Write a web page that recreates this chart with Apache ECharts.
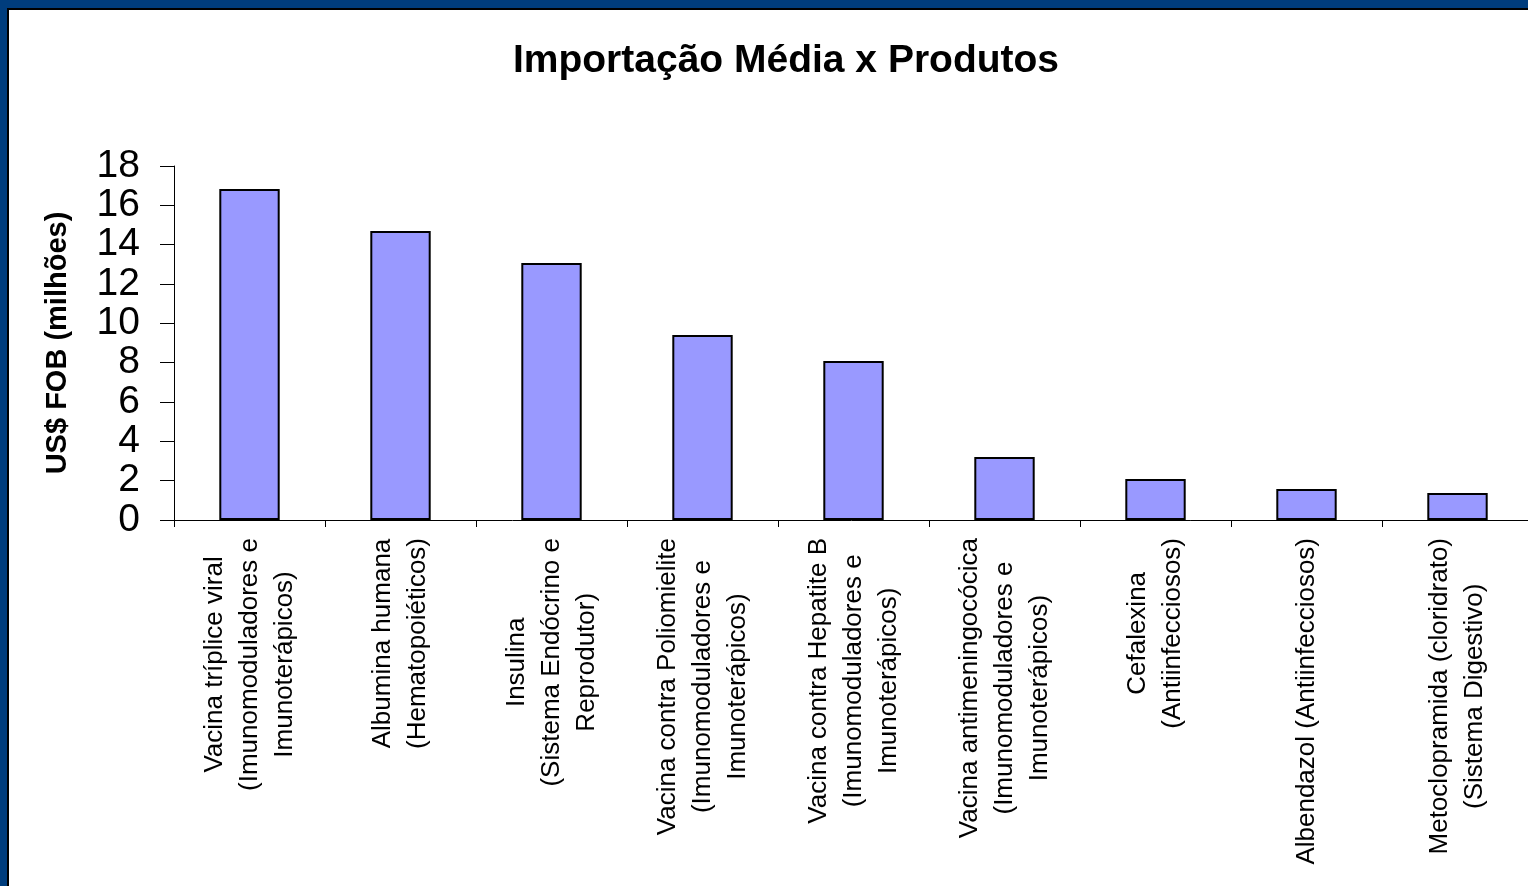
<!DOCTYPE html>
<html>
<head>
<meta charset="utf-8">
<script src="https://cdn.jsdelivr.net/npm/echarts@6/dist/echarts.min.js"></script>
<style>
  html, body { margin: 0; padding: 0; width: 1528px; height: 886px; overflow: hidden; background: #003d7d; }
  #frame { position: absolute; left: 7px; top: 8px; right: 0; bottom: 0; background: #fff;
           border-top: 2px solid #000; border-left: 2px solid #000; box-sizing: border-box; }
  #chart { position: absolute; left: 0; top: 0; width: 1528px; height: 886px; }
</style>
</head>
<body>
<div id="frame"></div>
<div id="chart"></div>
<script>
const categories = [
  "Vacina tríplice viral\n(Imunomoduladores e\nImunoterápicos)",
  "Albumina humana\n(Hematopoiéticos)",
  "Insulina\n(Sistema Endócrino e\nReprodutor)",
  "Vacina contra Poliomielite\n(Imunomoduladores e\nImunoterápicos)",
  "Vacina contra Hepatite B\n(Imunomoduladores e\nImunoterápicos)",
  "Vacina antimeningocócica\n(Imunomoduladores e\nImunoterápicos)",
  "Cefalexina\n(Antiinfecciosos)",
  "Albendazol (Antiinfecciosos)",
  "Metoclopramida (cloridrato)\n(Sistema Digestivo)"
];
const values = [16.83, 14.69, 13.07, 9.41, 8.08, 3.2, 2.08, 1.58, 1.37];
const titleText = "Importação Média x Produtos";
const yAxisName = "US$ FOB (milhões)";

const font = "'Liberation Sans', Arial, sans-serif";
const chart = echarts.init(document.getElementById('chart'), null, { renderer: 'canvas' });
chart.setOption({
  backgroundColor: 'transparent',
  animation: false,
  title: {
    text: titleText,
    left: 781,
    top: 37,
    textAlign: 'center',
    textStyle: { fontFamily: font, fontWeight: 'bold', fontSize: 39, color: '#000' }
  },
  grid: { left: 174, top: 166, width: 1359, height: 354, containLabel: false, outerBoundsMode: 'none' },
  xAxis: {
    type: 'category',
    data: categories,
    axisLine: { lineStyle: { color: '#000', width: 1 } },
    axisTick: { show: true, length: 7, lineStyle: { color: '#000' } },
    axisLabel: {
      interval: 0,
      rotate: 90,
      margin: 18,
      formatter: function (v) {
        return v.split('\n').map(function (l) { return '{c|' + l + '}'; }).join('\n');
      },
      rich: {
        c: { align: 'center', fontFamily: font, fontSize: 26, lineHeight: 35, color: '#000' }
      }
    }
  },
  yAxis: {
    type: 'value',
    min: 0,
    max: 18,
    interval: 2,
    name: yAxisName,
    nameLocation: 'middle',
    nameRotate: 90,
    nameGap: 102,
    nameTextStyle: { fontFamily: font, fontWeight: 'bold', fontSize: 29, color: '#000' },
    axisLine: { show: true, lineStyle: { color: '#000', width: 1 } },
    axisTick: { show: true, length: 14, lineStyle: { color: '#000' } },
    axisLabel: { margin: 34, fontFamily: font, fontSize: 39, color: '#000' },
    splitLine: { show: false }
  },
  series: [{
    type: 'bar',
    data: values,
    barWidth: '40%',
    itemStyle: { color: '#9999ff', borderColor: '#000', borderWidth: 2 }
  }]
});
</script>
</body>
</html>
